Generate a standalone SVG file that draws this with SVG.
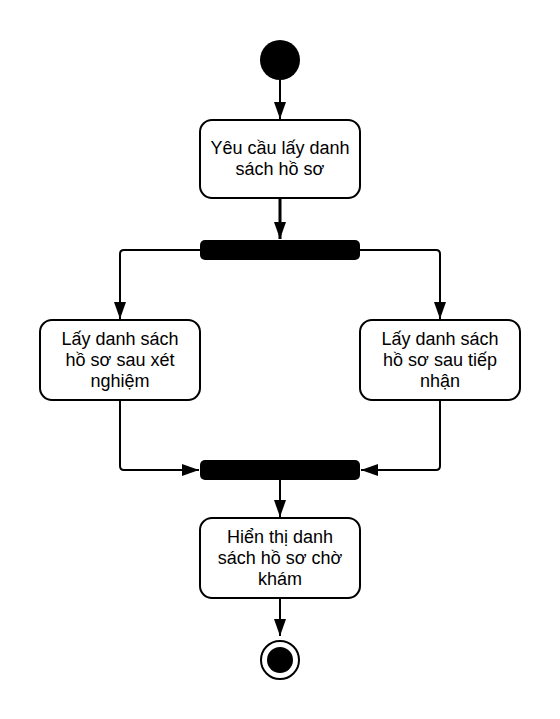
<svg xmlns="http://www.w3.org/2000/svg" width="560" height="719" viewBox="0 0 560 719">
<style>
.box{fill:#fff;stroke:#000;stroke-width:2}
.bar{fill:#000}
.t{font-family:"Liberation Sans",Arial,sans-serif;font-size:18px;fill:#000;text-anchor:middle}
.c{fill:none;stroke:#000;stroke-width:2}
</style>
<defs>
<marker id="ah" viewBox="0 0 17 12" refX="17" refY="6" markerWidth="17" markerHeight="12" markerUnits="userSpaceOnUse" orient="auto">
<path d="M0,0 L17,6 L0,12 Z" fill="#000"/>
</marker>
</defs>
<g id="connectors">
<path class="c" d="M280,80 V119" marker-end="url(#ah)"/>
<path class="c" d="M280,198 V239" marker-end="url(#ah)" style="stroke-width:3"/>
<path class="c" d="M200,250 H124 Q120,250 120,254 V319" marker-end="url(#ah)"/>
<path class="c" d="M360,250 H436 Q440,250 440,254 V319" marker-end="url(#ah)"/>
<path class="c" d="M120,400 V466 Q120,470 124,470 H199" marker-end="url(#ah)"/>
<path class="c" d="M440,400 V466 Q440,470 436,470 H361" marker-end="url(#ah)"/>
<path class="c" d="M280,480 V517" marker-end="url(#ah)"/>
<path class="c" d="M280,598 V636" marker-end="url(#ah)"/>
</g>
<g id="start"><circle cx="280" cy="60" r="20" fill="#000"/></g>
<g id="a1">
<rect class="box" x="200" y="120" width="160" height="78" rx="12"/>
<text class="t" x="280" y="154">Yêu cầu lấy danh</text>
<text class="t" x="280" y="175">sách hồ sơ</text>
</g>
<g id="fork"><rect class="bar" x="200" y="240" width="160" height="20" rx="5"/></g>
<g id="a2">
<rect class="box" x="40" y="320" width="160" height="80" rx="12"/>
<text class="t" x="120" y="345">Lấy danh sách</text>
<text class="t" x="120" y="366">hồ sơ sau xét</text>
<text class="t" x="120" y="387">nghiệm</text>
</g>
<g id="a3">
<rect class="box" x="360" y="320" width="160" height="80" rx="12"/>
<text class="t" x="440" y="345">Lấy danh sách</text>
<text class="t" x="440" y="366">hồ sơ sau tiếp</text>
<text class="t" x="440" y="387">nhận</text>
</g>
<g id="join"><rect class="bar" x="200" y="460" width="160" height="20" rx="5"/></g>
<g id="a4">
<rect class="box" x="200" y="518" width="160" height="80" rx="12"/>
<text class="t" x="280" y="543">Hiển thị danh</text>
<text class="t" x="280" y="564">sách hồ sơ chờ</text>
<text class="t" x="280" y="585">khám</text>
</g>
<g id="end">
<circle cx="280" cy="660" r="19" fill="#fff" stroke="#000" stroke-width="2"/>
<circle cx="280" cy="660" r="13" fill="#000"/>
</g>
</svg>
